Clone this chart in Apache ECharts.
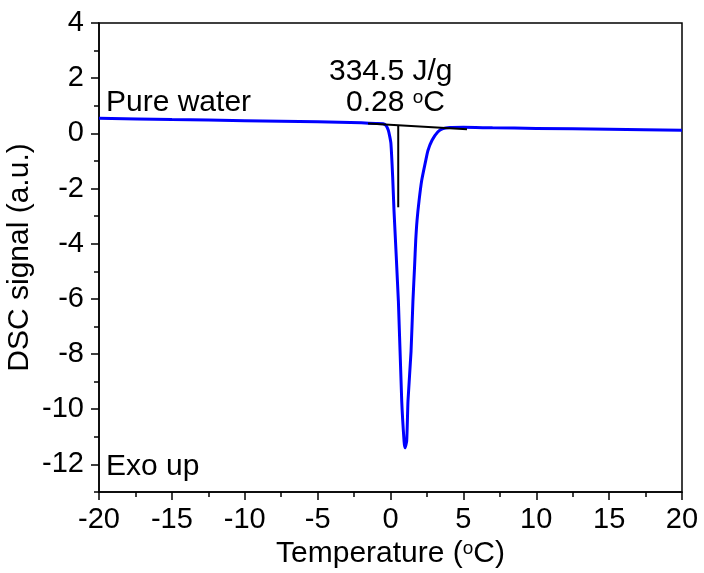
<!DOCTYPE html>
<html>
<head>
<meta charset="utf-8">
<script src="https://cdn.jsdelivr.net/npm/echarts@6/dist/echarts.min.js"></script>
<style>
html,body{margin:0;padding:0;background:#fff;}
#main{width:704px;height:573px;}
</style>
</head>
<body>
<div id="main"></div>
<script>
// DSC curve, pure water
var temp = [-20, -15, -10, -5, -2, -1, -0.51, -0.3, -0.15, -0.05, 0.03, 0.15, 0.24, 0.54, 0.77, 0.93, 0.99,
            1.11, 1.2, 1.41, 1.54, 1.65, 1.73, 1.82, 1.96, 2.14, 2.42, 2.57, 2.85, 3.24, 3.6, 4.08, 5, 7, 10, 15, 20];
var signal = [0.55, 0.5, 0.46, 0.42, 0.38, 0.36, 0.35, 0.28, 0.11, -0.12, -0.37, -1.59, -2.8, -6.07, -9.7, -11.16, -11.4,
              -11.16, -9.7, -7.9, -6.07, -4.85, -3.89, -3.16, -2.44, -1.71, -0.98, -0.62, -0.25, 0.05, 0.17, 0.21, 0.22, 0.2, 0.18, 0.15, 0.11];

// integration baseline and onset marker
var baseT = [-1.54, 5.25];
var baseV = [0.36, 0.15];
var onsetT = [0.53, 0.53];
var onsetV = [0.3, -2.68];

var yLabels = [-12, -10, -8, -6, -4, -2, 0, 2, 4];
var yMinor = [-13, -11, -9, -7, -5, -3, -1, 1, 3];

function pairs(a, b) {
    var out = [];
    for (var i = 0; i < a.length; i++) out.push([a[i], b[i]]);
    return out;
}

var font = 'Liberation Sans, Arial, sans-serif';
var myChart = echarts.init(document.getElementById('main'));

myChart.setOption({
    animation: false,
    grid: {left: 99, right: 22, top: 23, bottom: 81, outerBoundsMode: 'none', containLabel: false,
        show: true, borderColor: '#000', borderWidth: 1.5, backgroundColor: 'transparent'},
    xAxis: {
        type: 'value', min: -20, max: 20, interval: 5,
        name: 'Temperature ({sup|o}C)', nameLocation: 'middle', nameGap: 46,
        nameTextStyle: {color: '#000', fontSize: 30, fontFamily: font,
            rich: {sup: {fontSize: 19, verticalAlign: 'top', color: '#000', fontFamily: font}}},
        axisLine: {onZero: false, lineStyle: {color: '#000', width: 1.5}},
        axisTick: {length: 8, lineStyle: {color: '#000', width: 1.5}},
        minorTick: {show: true, splitNumber: 2, length: 5, lineStyle: {color: '#000', width: 1.5}},
        axisLabel: {color: '#000', fontSize: 29, fontFamily: font, margin: 13},
        splitLine: {show: false}
    },
    yAxis: [{
        type: 'value', min: -13, max: 4, interval: 1,
        name: 'DSC signal (a.u.)', nameLocation: 'middle', nameGap: 64, nameMoveOverlap: false,
        nameTextStyle: {color: '#000', fontSize: 30, fontFamily: font},
        axisLine: {onZero: false, lineStyle: {color: '#000', width: 1.5}},
        axisTick: {length: 8, customValues: yLabels, lineStyle: {color: '#000', width: 1.5}},
        axisLabel: {color: '#000', fontSize: 29, fontFamily: font, margin: 15, customValues: yLabels},
        splitLine: {show: false}
    }, {
        type: 'value', min: -13, max: 4, interval: 1, position: 'left',
        axisLine: {show: false, onZero: false},
        axisTick: {length: 5, customValues: yMinor, lineStyle: {color: '#000', width: 1.5}},
        axisLabel: {show: false},
        splitLine: {show: false}
    }],
    series: [{
        type: 'line', data: pairs(temp, signal), smooth: 0.2, symbol: 'none',
        lineStyle: {color: '#0000ff', width: 3}, z: 3
    }, {
        type: 'line', data: pairs(baseT, baseV), symbol: 'none',
        lineStyle: {color: '#000', width: 2}, z: 4
    }, {
        type: 'line', data: pairs(onsetT, onsetV), symbol: 'none',
        lineStyle: {color: '#000', width: 2}, z: 4
    }],
    graphic: [
        {type: 'text', left: 106, top: 88, style: {text: 'Pure water', fill: '#000', font: '30px ' + font}},
        {type: 'text', left: 106, top: 452, style: {text: 'Exo up', fill: '#000', font: '30px ' + font}},
        {type: 'text', left: 329, top: 57, style: {text: '334.5 J/g', fill: '#000', font: '30px ' + font}},
        {type: 'text', left: 346, top: 88, style: {
            text: '0.28 {sup|o}C', fill: '#000', font: '30px ' + font,
            rich: {sup: {fontSize: 19, verticalAlign: 'top', fill: '#000', fontFamily: font}}
        }}
    ]
});
</script>
</body>
</html>
